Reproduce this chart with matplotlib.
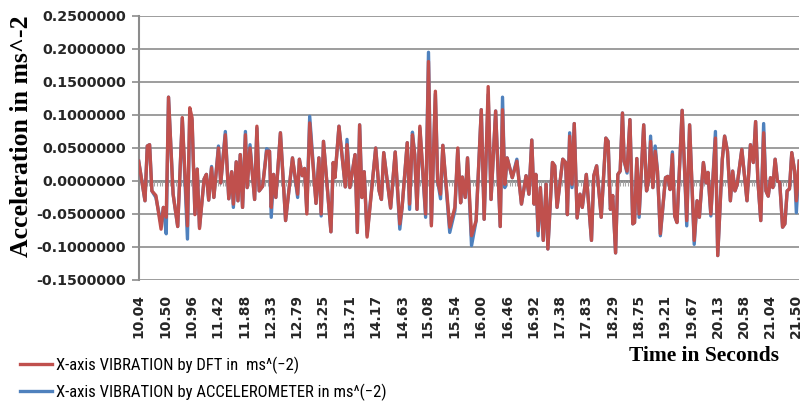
import matplotlib.pyplot as plt
import numpy as np

t = [10.04, 10.15, 10.19, 10.23, 10.27, 10.34, 10.43, 10.47, 10.52, 10.56,
     10.64, 10.72, 10.80, 10.89, 10.93, 10.97, 11.02, 11.06, 11.10, 11.18,
     11.22, 11.26, 11.31, 11.35, 11.43, 11.47, 11.55, 11.61, 11.66, 11.69,
     11.74, 11.77, 11.81, 11.85, 11.90, 11.93, 11.98, 12.06, 12.10, 12.14,
     12.20, 12.27, 12.32, 12.35, 12.39, 12.43, 12.51, 12.60, 12.72, 12.81,
     12.84, 12.89, 12.93, 12.97, 13.02, 13.13, 13.18, 13.22, 13.26, 13.39,
     13.43, 13.46, 13.53, 13.64, 13.67, 13.72, 13.81, 13.85, 13.89, 13.93,
     13.97, 14.02, 14.17, 14.23, 14.27, 14.31, 14.43, 14.51, 14.59, 14.63,
     14.72, 14.76, 14.81, 14.85, 14.89, 14.94, 15.04, 15.09, 15.14, 15.21,
     15.25, 15.30, 15.34, 15.46, 15.55, 15.60, 15.65, 15.68, 15.73, 15.77,
     15.84, 15.92, 16.01, 16.06, 16.13, 16.18, 16.26, 16.34, 16.38, 16.42,
     16.46, 16.55, 16.63, 16.71, 16.79, 16.84, 16.89, 16.93, 16.96, 17.00,
     17.04, 17.09, 17.14, 17.17, 17.25, 17.29, 17.33, 17.43, 17.48, 17.51,
     17.55, 17.59, 17.63, 17.68, 17.73, 17.77, 17.84, 17.93, 17.97, 18.02,
     18.10, 18.18, 18.22, 18.26, 18.30, 18.35, 18.39, 18.43, 18.47, 18.50,
     18.55, 18.60, 18.65, 18.68, 18.72, 18.76, 18.84, 18.89, 18.93, 18.96,
     19.00, 19.04, 19.08, 19.13, 19.22, 19.26, 19.30, 19.34, 19.38, 19.42,
     19.51, 19.59, 19.64, 19.72, 19.77, 19.81, 19.88, 19.93, 19.96, 20.01,
     20.09, 20.13, 20.21, 20.25, 20.30, 20.35, 20.39, 20.43, 20.47, 20.55,
     20.64, 20.70, 20.75, 20.79, 20.83, 20.88, 20.93, 20.97, 21.01, 21.05,
     21.09, 21.13, 21.17, 21.21, 21.26, 21.30, 21.34, 21.38, 21.42, 21.47,
     21.50, 21.55]

dft = [0.030, -0.030, 0.053, 0.055, -0.015, -0.022, -0.073, -0.040, -0.055, 0.127,
       -0.020, -0.069, 0.096, -0.068, 0.111, 0.096, -0.051, 0.018, -0.072, 0.003,
       0.010, -0.029, 0.020, -0.025, 0.050, -0.003, 0.070, -0.027, 0.014, -0.035,
       0.029, -0.030, 0.040, -0.040, 0.070, -0.010, 0.050, -0.028, 0.083, -0.015,
       -0.008, 0.045, 0.045, -0.040, 0.010, -0.025, 0.073, -0.060, 0.035, -0.020,
       0.033, 0.008, 0.019, -0.050, 0.088, -0.034, 0.035, -0.050, 0.060, -0.077,
       0.028, 0.005, 0.083, -0.009, 0.055, -0.010, 0.040, -0.078, 0.085, -0.025,
       0.014, -0.085, 0.050, -0.015, -0.028, 0.043, -0.041, 0.044, -0.065, -0.040,
       0.058, -0.035, 0.070, 0.040, -0.043, 0.083, -0.050, 0.181, -0.068, 0.136,
       0.000, -0.020, 0.054, -0.070, -0.040, 0.050, -0.033, 0.006, -0.025, 0.035,
       -0.083, -0.060, 0.108, -0.058, 0.143, -0.028, 0.106, -0.069, 0.108, -0.005,
       0.035, 0.005, 0.030, -0.035, 0.008, -0.020, 0.062, -0.035, 0.010, -0.075,
       -0.010, -0.090, -0.005, -0.103, 0.028, 0.023, -0.040, 0.033, 0.028, -0.051,
       0.068, -0.005, 0.087, -0.056, -0.020, -0.040, 0.010, -0.090, 0.008, 0.023,
       -0.055, 0.065, 0.060, -0.043, -0.022, -0.109, 0.010, 0.015, 0.103, 0.030,
       0.015, 0.093, -0.065, -0.063, 0.034, -0.050, 0.085, -0.015, 0.005, 0.060,
       -0.010, 0.045, 0.015, -0.080, 0.005, 0.007, -0.013, 0.040, -0.053, -0.063,
       0.107, -0.060, 0.085, -0.090, -0.030, -0.055, 0.028, -0.003, 0.013, -0.050,
       0.065, -0.113, 0.033, 0.068, 0.045, -0.030, 0.015, -0.015, -0.005, 0.048,
       -0.030, 0.055, 0.028, 0.090, 0.000, -0.060, 0.073, -0.015, -0.023, 0.005,
       -0.010, 0.033, 0.000, -0.002, -0.070, -0.065, -0.015, -0.012, 0.043, 0.015,
       -0.030, 0.030]

acc = [0.030, -0.030, 0.053, 0.055, -0.015, -0.025, -0.065, -0.040, -0.080, 0.127,
       -0.020, -0.069, 0.095, -0.088, 0.105, 0.092, -0.050, 0.018, -0.070, 0.003,
       0.010, -0.029, 0.022, -0.025, 0.053, -0.003, 0.075, -0.027, 0.014, -0.040,
       0.029, -0.030, 0.040, -0.040, 0.075, -0.010, 0.055, -0.028, 0.080, -0.015,
       -0.008, 0.049, 0.045, -0.055, 0.010, -0.025, 0.073, -0.060, 0.035, -0.025,
       0.033, 0.008, 0.019, -0.045, 0.098, -0.034, 0.035, -0.053, 0.060, -0.077,
       0.028, 0.005, 0.083, -0.009, 0.063, -0.010, 0.040, -0.078, 0.085, -0.025,
       0.014, -0.082, 0.050, -0.015, -0.028, 0.043, -0.041, 0.044, -0.073, -0.040,
       0.058, -0.043, 0.074, 0.040, -0.043, 0.080, -0.055, 0.195, -0.065, 0.132,
       0.000, -0.027, 0.054, -0.078, -0.045, 0.048, -0.033, 0.006, -0.025, 0.035,
       -0.098, -0.060, 0.108, -0.058, 0.131, -0.028, 0.106, -0.069, 0.127, -0.010,
       0.035, 0.005, 0.033, -0.035, 0.008, -0.020, 0.062, -0.035, 0.010, -0.083,
       -0.010, -0.090, -0.005, -0.103, 0.028, 0.023, -0.040, 0.033, 0.028, -0.051,
       0.073, -0.010, 0.087, -0.056, -0.020, -0.040, 0.010, -0.090, 0.008, 0.023,
       -0.055, 0.065, 0.060, -0.043, -0.022, -0.109, 0.010, 0.015, 0.103, 0.030,
       0.012, 0.093, -0.065, -0.063, 0.034, -0.055, 0.085, -0.015, 0.005, 0.068,
       -0.010, 0.053, 0.015, -0.083, 0.005, 0.007, -0.013, 0.044, -0.053, -0.063,
       0.107, -0.068, 0.085, -0.096, -0.030, -0.055, 0.028, -0.003, 0.013, -0.053,
       0.075, -0.113, 0.033, 0.068, 0.045, -0.030, 0.015, -0.015, -0.005, 0.048,
       -0.030, 0.055, 0.028, 0.090, 0.000, -0.060, 0.087, -0.015, -0.023, 0.005,
       -0.010, 0.033, 0.000, -0.002, -0.070, -0.065, -0.015, -0.012, 0.043, 0.015,
       -0.048, 0.030]

x_labels = ['10.04', '10.50', '10.96', '11.42', '11.88', '12.33', '12.79', '13.25',
            '13.71', '14.17', '14.63', '15.08', '15.54', '16.00', '16.46', '16.92',
            '17.38', '17.83', '18.29', '18.75', '19.21', '19.67', '20.13', '20.58',
            '21.04', '21.50']
y_ticks = [-0.15, -0.10, -0.05, 0.0, 0.05, 0.10, 0.15, 0.20, 0.25]
y_labels = ['-0.1500000', '-0.1000000', '-0.0500000', '0.0000000', '0.0500000',
            '0.1000000', '0.1500000', '0.2000000', '0.2500000']

dt = 0.04584  # one sample step on the category axis
n_cat = 252

gray = '#8c8c8c'
red = '#C0504D'
blue = '#4F81BD'

fig = plt.figure(figsize=(8.03, 4.04), dpi=100)
ax = fig.add_axes([0.1727, 0.307, 0.8223, 0.6534])

ax.set_xlim(10.04, 10.04 + (n_cat - 1) * dt)
ax.set_ylim(-0.15, 0.25)

ax.yaxis.grid(True, color=gray, lw=1.2)
ax.set_axisbelow(True)
for s in ['top', 'right', 'bottom']:
    ax.spines[s].set_visible(False)
ax.spines['left'].set_color(gray)
ax.spines['left'].set_linewidth(1.5)

# horizontal axis line through zero with a tick per sample
ax.axhline(0, color=gray, lw=2, zorder=1)
cats = 10.04 + np.arange(n_cat) * dt
ax.vlines(cats, -0.0075, 0, color='#a6a6a6', lw=0.8, zorder=1)

l_acc, = ax.plot(t, acc, color=blue, lw=2.4, zorder=3, solid_joinstyle='round')
l_dft, = ax.plot(t, dft, color=red, lw=2.4, zorder=4, solid_joinstyle='round')

ax.set_yticks(y_ticks)
ax.set_yticklabels(y_labels, fontsize=10.3, fontweight='bold', color='#262626')
ax.tick_params(axis='y', direction='out', length=5, color=gray, width=1.2, pad=4)

ax.set_xticks([float(s) for s in x_labels])
ax.set_xticklabels(x_labels, rotation=90, fontsize=10, fontweight='bold', color='#262626')
ax.tick_params(axis='x', length=0, pad=10)

fig.text(0.027, 0.662, 'Acceleration in ms^-2', rotation=90, ha='center', va='center',
         family='Liberation Serif', fontweight='bold', fontsize=18.5)
fig.text(0.877, 0.118, 'Time in Seconds', ha='center', va='center',
         family='Liberation Serif', fontweight='bold', fontsize=15.5)

leg = fig.legend([l_dft, l_acc],
                 ['X-axis VIBRATION by DFT in  ms^(\u22122)',
                  'X-axis VIBRATION by ACCELEROMETER in ms^(\u22122)'],
                 loc='upper left', bbox_to_anchor=(0.017, 0.134), frameon=False,
                 prop={'family': ['Roboto Condensed', 'Liberation Sans'], 'size': 12},
                 handlelength=1.9, handletextpad=0.25, labelspacing=0.58, borderaxespad=0)

fig.savefig('out.png', dpi=100)
